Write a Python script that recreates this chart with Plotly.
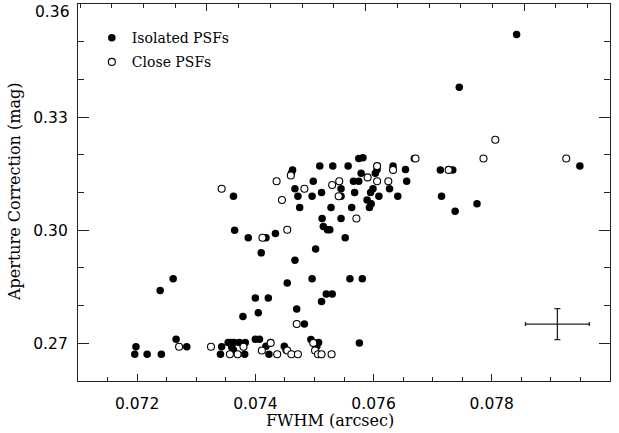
import plotly.graph_objects as go

# FWHM (arcsec) and aperture correction (mag)
iso_x = [0.07842, 0.07745, 0.07949, 0.07669, 0.07575, 0.07582, 0.07509, 0.07531, 0.07557, 0.07633,
         0.07463, 0.07606, 0.07603, 0.07654, 0.07713, 0.07734, 0.07461, 0.07579, 0.07498, 0.07566,
         0.07575, 0.07656, 0.07467, 0.07545, 0.07599, 0.07627, 0.07512, 0.07568, 0.07595, 0.07363,
         0.07472, 0.07496, 0.07545, 0.07609, 0.07641, 0.07715, 0.07589, 0.07596, 0.07775, 0.07738,
         0.07475, 0.07528, 0.07563, 0.07593, 0.07513, 0.07545, 0.07515, 0.07522, 0.07526, 0.07365,
         0.07388, 0.07418, 0.07434, 0.07552, 0.07502, 0.07410, 0.07467, 0.07261, 0.07239, 0.07454,
         0.07496, 0.07560, 0.07581, 0.07400, 0.07422, 0.07520, 0.07530, 0.07512, 0.07405, 0.07379,
         0.07470, 0.07483, 0.07266, 0.07400, 0.07407, 0.07494, 0.07507, 0.07504, 0.07576, 0.07198,
         0.07284, 0.07343, 0.07354, 0.07359, 0.07364, 0.07373, 0.07383, 0.07360, 0.07363, 0.07418,
         0.07449, 0.07452, 0.07196, 0.07217, 0.07241, 0.07341, 0.07382, 0.07423]
iso_y = [0.3519, 0.3379, 0.3170, 0.3190, 0.3190, 0.3192, 0.3170, 0.3170, 0.3170, 0.3170,
         0.3160, 0.3161, 0.3151, 0.3161, 0.3160, 0.3160, 0.3151, 0.3151, 0.3130, 0.3130,
         0.3130, 0.3130, 0.3110, 0.3110, 0.3110, 0.3110, 0.3100, 0.3100, 0.3100, 0.3090,
         0.3090, 0.3090, 0.3090, 0.3090, 0.3090, 0.3090, 0.3080, 0.3070, 0.3070, 0.3050,
         0.3060, 0.3060, 0.3060, 0.3060, 0.3031, 0.3031, 0.3010, 0.3001, 0.3001, 0.3000,
         0.2980, 0.2980, 0.2991, 0.2980, 0.2950, 0.2940, 0.2920, 0.2871, 0.2840, 0.2860,
         0.2871, 0.2871, 0.2871, 0.2820, 0.2820, 0.2831, 0.2831, 0.2811, 0.2781, 0.2771,
         0.2791, 0.2751, 0.2711, 0.2711, 0.2711, 0.2710, 0.2702, 0.2692, 0.2701, 0.2691,
         0.2691, 0.2691, 0.2702, 0.2702, 0.2702, 0.2702, 0.2702, 0.2690, 0.2682, 0.2692,
         0.2692, 0.2682, 0.2671, 0.2671, 0.2671, 0.2671, 0.2671, 0.2671]

close_x = [0.07343, 0.07671, 0.07606, 0.07633, 0.07727, 0.07786, 0.07806, 0.07926, 0.07460, 0.07590,
           0.07436, 0.07542, 0.07606, 0.07625, 0.07530, 0.07483, 0.07541, 0.07445, 0.07571, 0.07454,
           0.07412, 0.07470, 0.07271, 0.07325, 0.07380, 0.07357, 0.07370, 0.07426, 0.07411, 0.07437,
           0.07454, 0.07461, 0.07472, 0.07498, 0.07501, 0.07506, 0.07512, 0.07529]
close_y = [0.3110, 0.3190, 0.3170, 0.3160, 0.3160, 0.3190, 0.3240, 0.3190, 0.3145, 0.3140,
           0.3130, 0.3130, 0.3130, 0.3130, 0.3120, 0.3110, 0.3090, 0.3080, 0.3031, 0.3001,
           0.2980, 0.2751, 0.2691, 0.2691, 0.2691, 0.2671, 0.2671, 0.2701, 0.2681, 0.2671,
           0.2681, 0.2671, 0.2671, 0.2701, 0.2681, 0.2671, 0.2671, 0.2671]

# typical error bar
err_x = [0.07911]
err_y = [0.2751]
err_dx = 0.00054
err_dy = 0.0041

ink = '#222222'
serif = 'DejaVu Serif'
sans = 'DejaVu Sans'

fig = go.Figure()

fig.add_trace(go.Scatter(
    x=iso_x, y=iso_y, mode='markers', name='Isolated PSFs',
    legendgroup='a',
    marker=dict(symbol='circle', size=7.5, color='black', line=dict(width=0)),
))
fig.add_trace(go.Scatter(
    x=close_x, y=close_y, mode='markers', name='Close PSFs',
    legendgroup='b',
    marker=dict(symbol='circle', size=7, color='white', line=dict(width=1.1, color='black')),
))
fig.add_trace(go.Scatter(
    x=err_x, y=err_y, mode='markers', showlegend=False,
    marker=dict(size=1, color=ink),
    error_x=dict(type='constant', value=err_dx, width=2, thickness=1.3, color=ink),
    error_y=dict(type='constant', value=err_dy, width=3, thickness=1.3, color=ink),
))

# top axis carries its own (unlabelled) tick scale
fig.add_trace(go.Scatter(x=[], y=[], xaxis='x2', yaxis='y2', showlegend=False))

fig.update_layout(
    width=619, height=433,
    margin=dict(l=78, r=9, t=4, b=52, autoexpand=False),
    paper_bgcolor='white', plot_bgcolor='white',
    showlegend=True,
    legend=dict(x=0.026, y=0.952, xanchor='left', yanchor='top',
                font=dict(family=serif, size=14, color='black'),
                bgcolor='rgba(0,0,0,0)', tracegroupgap=3, itemsizing='trace'),
    xaxis=dict(range=[0.071, 0.080], tick0=0.072, dtick=0.002, tickformat='.3f',
               ticks='inside', ticklen=7, tickwidth=1.2, tickcolor=ink,
               minor=dict(dtick=0.0005, ticks='inside', ticklen=4, tickcolor=ink, tickwidth=1),
               showline=True, linecolor=ink, linewidth=1.3, mirror=True,
               showgrid=False, zeroline=False, ticklabelstandoff=8, automargin=False,
               tickfont=dict(family=sans, size=15.5, color='black')),
    xaxis2=dict(overlaying='x', side='top', range=[-0.813, 2.541], tick0=0, dtick=1,
                ticks='inside', ticklen=7, tickwidth=1.2, tickcolor=ink,
                minor=dict(dtick=0.2, ticks='inside', ticklen=4, tickcolor=ink, tickwidth=1),
                showticklabels=False, showgrid=False, zeroline=False, automargin=False),
    yaxis=dict(range=[0.26, 0.36], tickvals=[0.27, 0.30, 0.33, 0.36],
               ticktext=['0.27', '0.30', '0.33', ''],
               ticks='inside', ticklen=11, tickwidth=1.2, tickcolor=ink,
               minor=dict(dtick=0.01, tick0=0.26, ticks='inside', ticklen=6, tickcolor=ink, tickwidth=1),
               showline=True, linecolor=ink, linewidth=1.3, mirror=True,
               showgrid=False, zeroline=False, ticklabelstandoff=6, automargin=False,
               tickfont=dict(family=sans, size=15.5, color='black')),
    yaxis2=dict(overlaying='y', side='right', range=[0.26, 0.36], tick0=0.27, dtick=0.03,
                ticks='inside', ticklen=11, tickwidth=1.2, tickcolor=ink,
                minor=dict(dtick=0.01, tick0=0.26, ticks='inside', ticklen=6, tickcolor=ink, tickwidth=1),
                showticklabels=False, showgrid=False, zeroline=False, automargin=False),
    annotations=[
        dict(text='FWHM (arcsec)', xref='paper', yref='paper', x=0.4733, y=0, yshift=-39,
             xanchor='center', yanchor='middle', showarrow=False,
             font=dict(family=serif, size=16, color='black')),
        dict(text='Aperture Correction (mag)', xref='paper', yref='paper', x=-0.1193, y=0.5,
             xanchor='center', yanchor='middle', textangle=-90, showarrow=False,
             font=dict(family=serif, size=16, color='black')),
        dict(text='0.36', xref='paper', yref='paper', x=0, y=1, xshift=-6, yshift=-8,
             xanchor='right', yanchor='middle', showarrow=False,
             font=dict(family=sans, size=15.5, color='black')),
    ],
)

# drop the browser's default page margin so the figure sits at the window corner
fig.write_html("out.html", config={'displayModeBar': False},
               post_script="document.body.style.margin='0';")
